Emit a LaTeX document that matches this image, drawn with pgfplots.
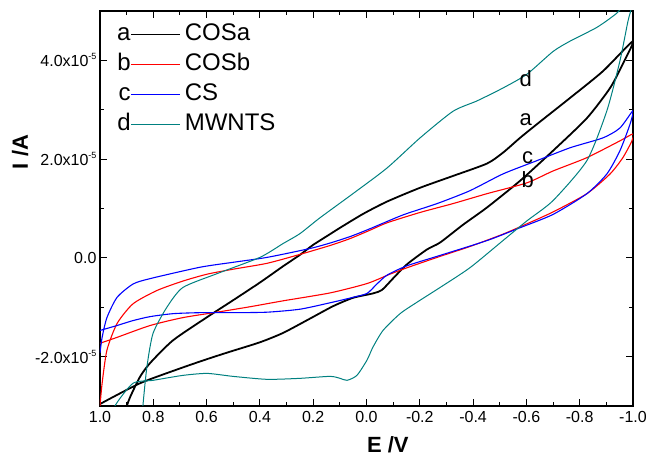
\documentclass[border=0pt]{standalone}
\usepackage{pgfplots}
\pgfplotsset{compat=1.18}
\usepackage{fontspec}
\setmainfont{Liberation Sans}
\definecolor{tealc}{RGB}{0,128,128}
\newcommand{\tenexp}[1]{x10\raisebox{0.85ex}{\fontsize{9}{9}\selectfont #1}}
\begin{document}
\begin{tikzpicture}
\useasboundingbox (-100pt,-51pt) rectangle (548pt,406pt);
\begin{axis}[
  scale only axis, width=533pt, height=395pt,
  x dir=reverse,
  xmin=-1, xmax=1, ymin=-3, ymax=5,
  xtick={-1.0,-0.8,-0.6,-0.4,-0.2,0,0.2,0.4,0.6,0.8,1.0},
  xticklabels={-1.0,-0.8,-0.6,-0.4,-0.2,0.0,0.2,0.4,0.6,0.8,1.0},
  ytick={-2,0,2,4},
  yticklabels={-2.0\tenexp{-5},0.0,2.0\tenexp{-5},4.0\tenexp{-5}},
  minor x tick num=1, minor y tick num=1,
  tick align=inside,
  major tick length=7pt, minor tick length=4pt,
  every tick/.style={black, line width=1pt},
  axis line style={line width=1.3pt},
  tick label style={font=\fontsize{16}{19}\selectfont},
  xticklabel style={yshift=-2pt},
  xlabel={\textbf{E /V}}, ylabel={\textbf{I /A}},
  xlabel style={font=\fontsize{22}{26}\selectfont, at={(axis description cs:0.54,-0.097)}, anchor=center},
  ylabel style={font=\fontsize{22}{26}\selectfont, at={(axis description cs:-0.15,0.643)}, anchor=center},
  legend style={at={(axis description cs:0.026,0.985)}, anchor=north west, draw=none, fill=none,
    font=\fontsize{24}{28}\selectfont, row sep=0pt,
    nodes={inner xsep=4pt, inner ysep=4pt, text height=17pt, text depth=5pt}},
  legend cell align=left,
  clip=true,
]
% COSa
\addplot[black, line width=1.8pt, smooth, tension=0.4,
  legend image code/.code={\draw[black,line width=1pt] (0pt,0pt) -- (49pt,0pt); \node[anchor=east,inner sep=0pt,text=black,font=\fontsize{24}{28}\selectfont] at (0pt,0pt) {a};}]
coordinates {
(1.000,-2.96) (0.850,-2.54) (0.700,-2.24) (0.598,-2.05) (0.512,-1.90) (0.400,-1.71) (0.313,-1.52)
(0.212,-1.23) (0.126,-0.98) (0.051,-0.81) (-0.024,-0.72) (-0.058,-0.65) (-0.099,-0.42)
(-0.152,-0.13) (-0.227,0.17) (-0.276,0.31) (-0.362,0.67) (-0.452,1.02) (-0.576,1.56)
(-0.700,2.17) (-0.827,2.83) (-0.914,3.44) (-0.962,3.93) (-1.000,4.39)
(-0.887,3.78) (-0.764,3.24) (-0.640,2.71) (-0.576,2.43) (-0.512,2.13) (-0.452,1.91)
(-0.325,1.66) (-0.201,1.42) (-0.077,1.14) (0.013,0.89) (0.099,0.61) (0.137,0.48)
(0.201,0.26) (0.250,0.06) (0.313,-0.17) (0.400,-0.50) (0.501,-0.86) (0.598,-1.20)
(0.726,-1.67) (0.812,-2.13) (0.850,-2.41) (0.887,-2.82) (0.899,-3.0) (0.910,-3.3)
};
\addlegendentry{COSa}
% COSb
\addplot[red, line width=1.1pt, smooth, tension=0.4,
  legend image code/.code={\draw[red,line width=1pt] (0pt,0pt) -- (49pt,0pt); \node[anchor=east,inner sep=0pt,text=black,font=\fontsize{24}{28}\selectfont] at (0pt,0pt) {b};}]
coordinates {
(1.000,-1.73) (0.936,-1.61) (0.812,-1.37) (0.689,-1.21) (0.561,-1.10) (0.437,-0.99)
(0.313,-0.87) (0.137,-0.71) (-0.002,-0.52) (-0.088,-0.33) (-0.152,-0.20) (-0.276,0.03)
(-0.388,0.23) (-0.512,0.48) (-0.602,0.69) (-0.700,0.93) (-0.827,1.30) (-0.914,1.70)
(-0.962,2.03) (-0.996,2.37) (-1.000,2.51)
(-0.951,2.37) (-0.827,2.03) (-0.700,1.76) (-0.602,1.52) (-0.452,1.30) (-0.325,1.10)
(-0.201,0.92) (-0.077,0.71) (-0.013,0.56) (0.062,0.39) (0.137,0.25) (0.250,0.07)
(0.373,-0.11) (0.501,-0.23) (0.598,-0.33) (0.689,-0.47) (0.786,-0.66) (0.876,-0.93)
(0.936,-1.33) (0.974,-1.87) (0.992,-2.54) (1.000,-3.0)
};
\addlegendentry{COSb}
% CS
\addplot[blue, line width=1.1pt, smooth, tension=0.4,
  legend image code/.code={\draw[blue,line width=1pt] (0pt,0pt) -- (49pt,0pt); \node[anchor=east,inner sep=0pt,text=black,font=\fontsize{24}{28}\selectfont] at (0pt,0pt) {c};}]
coordinates {
(1.000,-1.47) (0.936,-1.37) (0.876,-1.27) (0.812,-1.19) (0.726,-1.13) (0.625,-1.11)
(0.501,-1.11) (0.373,-1.10) (0.250,-1.04) (0.137,-0.91) (0.051,-0.80) (-0.002,-0.72)
(-0.039,-0.53) (-0.077,-0.35) (-0.152,-0.16) (-0.276,0.05) (-0.452,0.35) (-0.576,0.61)
(-0.700,0.88) (-0.827,1.30) (-0.902,1.70) (-0.951,2.17) (-0.989,2.71) (-1.000,2.98)
(-0.951,2.63) (-0.887,2.43) (-0.764,2.23) (-0.640,1.97) (-0.512,1.70) (-0.388,1.36)
(-0.265,1.10) (-0.137,0.87) (-0.013,0.59) (0.062,0.43) (0.137,0.30) (0.212,0.19) (0.373,0.01)
(0.501,-0.09) (0.625,-0.19) (0.812,-0.42) (0.876,-0.53) (0.936,-0.80) (0.974,-1.21)
(0.992,-1.61) (1.000,-1.93)
};
\addlegendentry{CS}
% MWNTS
\addplot[tealc, line width=1pt, smooth, tension=0.4,
  legend image code/.code={\draw[tealc,line width=1pt] (0pt,0pt) -- (49pt,0pt); \node[anchor=east,inner sep=0pt,text=black,font=\fontsize{24}{28}\selectfont] at (0pt,0pt) {d};}]
coordinates {
(0.975,-3.5) (0.944,-3.00) (0.876,-2.54) (0.801,-2.48) (0.689,-2.38) (0.598,-2.34)
(0.501,-2.40) (0.373,-2.46) (0.250,-2.44) (0.137,-2.40) (0.099,-2.44) (0.073,-2.48)
(0.036,-2.38) (-0.002,-2.07) (-0.024,-1.81) (-0.062,-1.47) (-0.126,-1.13) (-0.189,-0.90)
(-0.276,-0.60) (-0.388,-0.20) (-0.512,0.35) (-0.602,0.75) (-0.700,1.16) (-0.827,1.97)
(-0.902,2.98) (-0.951,3.99) (-0.981,4.79) (-0.996,5.10) (-1.000,5.4)
(-0.975,5.2) (-0.940,4.96) (-0.865,4.67) (-0.764,4.39) (-0.700,4.18) (-0.602,3.72)
(-0.512,3.44) (-0.415,3.18) (-0.325,2.97) (-0.201,2.43) (-0.077,1.82) (0.051,1.30)
(0.175,0.81) (0.250,0.49) (0.313,0.29) (0.400,0.01) (0.561,-0.32) (0.689,-0.60)
(0.749,-1.00) (0.801,-1.53) (0.824,-2.21) (0.839,-3.00) (0.843,-3.4)
};
\addlegendentry{MWNTS}
\node[font=\fontsize{22}{26}\selectfont, inner sep=0pt] at (axis cs:-0.598,3.64) {d};
\node[font=\fontsize{22}{26}\selectfont, inner sep=0pt] at (axis cs:-0.598,2.79) {a};
\node[font=\fontsize{22}{26}\selectfont, inner sep=0pt] at (axis cs:-0.605,2.03) {c};
\node[font=\fontsize{22}{26}\selectfont, inner sep=0pt] at (axis cs:-0.605,1.58) {b};
\end{axis}
\end{tikzpicture}
\end{document}
